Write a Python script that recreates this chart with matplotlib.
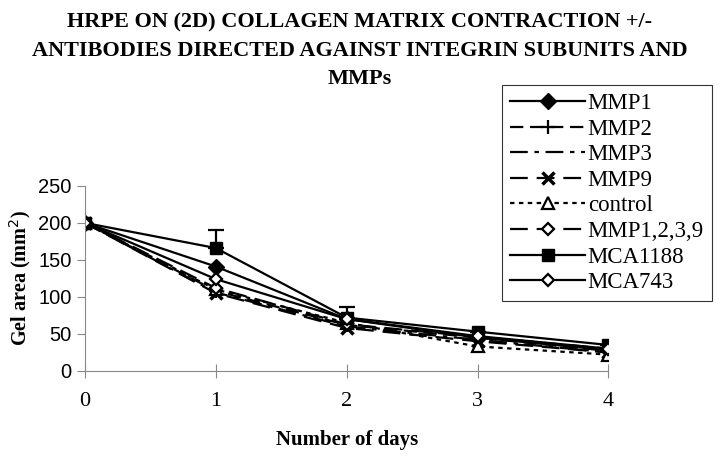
import matplotlib.pyplot as plt

days = [0, 1, 2, 3, 4]

mmp1 = [200, 141, 70, 45, 28]
mmp2 = [200, 108, 62, 45, 27]
mmp3 = [200, 106, 60, 42, 25]
mmp9 = [200, 105, 58, 40, 25]
control = [200, 110, 65, 33, 22]
mmp1239 = [200, 112, 63, 46, 30]
mca1188 = [200, 166, 72, 53, 35]
mca1188_err = [0, 24, 15, 0, 0]
mca743 = [200, 124, 70, 47, 30]

serif = 'Liberation Serif'
sans = 'Liberation Sans'

fig = plt.figure(figsize=(7.2, 4.59), dpi=100)
ax = fig.add_axes([0.118, 0.192, 0.727, 0.403])

k = dict(color='black', lw=1.6)
ax.plot(days, mmp1, marker='D', linestyle='-', ms=8, label='MMP1', **k)
ax.plot(days, mmp2, marker='+', linestyle=(0, (6, 3)), ms=10, mew=1.6, label='MMP2', **k)
ax.plot(days, mmp3, linestyle=(0, (8, 3, 2, 3)), label='MMP3', **k)
ax.plot(days, mmp9, marker='x', linestyle=(0, (8, 4)), ms=8, mew=2.5, label='MMP9', **k)
ax.plot(days, control, marker='^', linestyle=(0, (2, 2)), ms=8, mfc='white', mew=1.6,
        label='control', **k)
ax.plot(days, mmp1239, marker='D', linestyle=(0, (8, 4)), ms=6, mfc='white', mew=1.6,
        label='MMP1,2,3,9', **k)
ax.errorbar(days, mca1188, yerr=[[0] * 5, mca1188_err], fmt='none', ecolor='black',
            capsize=6, elinewidth=1.6, capthick=1.6)
ax.plot(days, mca1188, marker='s', linestyle='-', ms=9, label='MCA1188', **k)
ax.plot(days, mca743, marker='D', linestyle='-', ms=6, mfc='white', mew=1.6, label='MCA743', **k)

ax.set_xlim(0, 4)
ax.set_ylim(0, 250)
ax.set_xticks(days)
ax.set_yticks([0, 50, 100, 150, 200, 250])
for s in ['top', 'right']:
    ax.spines[s].set_visible(False)
for s in ['left', 'bottom']:
    ax.spines[s].set_color('#888888')
ax.tick_params(axis='y', direction='out', length=6, color='#888888', labelsize=14.5)
ax.tick_params(axis='x', direction='inout', length=10, color='#888888', labelsize=16, pad=10)
for t in ax.get_yticklabels():
    t.set_fontfamily(sans)
for t in ax.get_xticklabels():
    t.set_fontfamily(serif)

ax.set_xlabel('Number of days', fontfamily=serif, fontweight='bold', fontsize=15, labelpad=14)
ax.set_ylabel('Gel area (mm$^{2}$)', fontfamily=serif, fontweight='bold', fontsize=14.5, labelpad=4)

fig.text(0.5, 0.972, 'HRPE ON (2D) COLLAGEN MATRIX CONTRACTION +/-\n'
         'ANTIBODIES DIRECTED AGAINST INTEGRIN SUBUNITS AND\nMMPs',
         ha='center', va='top', fontfamily=serif, fontweight='bold', fontsize=16, linespacing=1.55)

leg = fig.legend(loc='upper left', bbox_to_anchor=(0.697, 0.815), frameon=True, fancybox=False,
                 edgecolor='black', prop={'family': serif, 'size': 16.5}, labelspacing=0.2,
                 handlelength=3.3, handletextpad=0.1, borderpad=0.35, borderaxespad=0)
leg.get_frame().set_linewidth(0.8)

fig.savefig('out.png', dpi=100)
